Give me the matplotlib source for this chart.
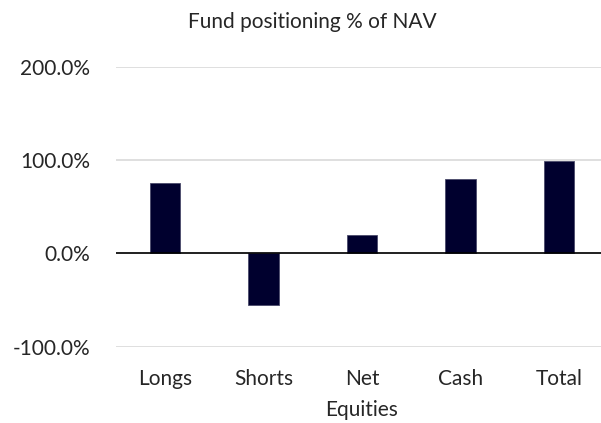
import matplotlib
matplotlib.use("Agg")
import matplotlib.pyplot as plt
from matplotlib.ticker import FuncFormatter

# Fund positioning, % of NAV
categories = ["Longs", "Shorts", "Net\nEquities", "Cash", "Total"]
values = [75.8, -55.5, 19.1, 80.0, 99.2]
y_ticks = [-100, 0, 100, 200]

bar_color = "#00002e"
text_color = "#262626"

plt.rcParams["font.family"] = ["Lato", "DejaVu Sans"]

fig = plt.figure(figsize=(6.01, 4.23), dpi=100)
ax = fig.add_axes([0.1925, 0.1806, 0.8195, 0.6617])

x = range(len(categories))
ax.bar(x, values, width=0.31, color=bar_color, edgecolor="#4a4a6a",
       linewidth=0.6, zorder=3)

ax.set_xlim(-0.5, len(categories) - 0.5)
ax.set_ylim(-100, 200)
ax.set_yticks(y_ticks)
ax.yaxis.set_major_formatter(FuncFormatter(lambda v, p: f"{v:.1f}%"))
ax.set_xticks(list(x))
ax.set_xticklabels(categories, linespacing=1.68)

ax.grid(axis="y", color="#d9d9d9", linewidth=1.2, zorder=0)
ax.axhline(0, color="#000000", linewidth=1.2, zorder=4)

for s in ax.spines.values():
    s.set_visible(False)
ax.tick_params(axis="both", length=0, labelsize=15, colors=text_color)
ax.tick_params(axis="y", pad=18.5)
ax.tick_params(axis="x", pad=16)
for lbl in ax.get_xticklabels():
    lbl.set_verticalalignment("top")

fig.text(312 / 601, 1 - 22 / 423, "Fund positioning % of NAV", ha="center",
         va="center", fontsize=15, color=text_color)

fig.savefig("out.png", dpi=100)
